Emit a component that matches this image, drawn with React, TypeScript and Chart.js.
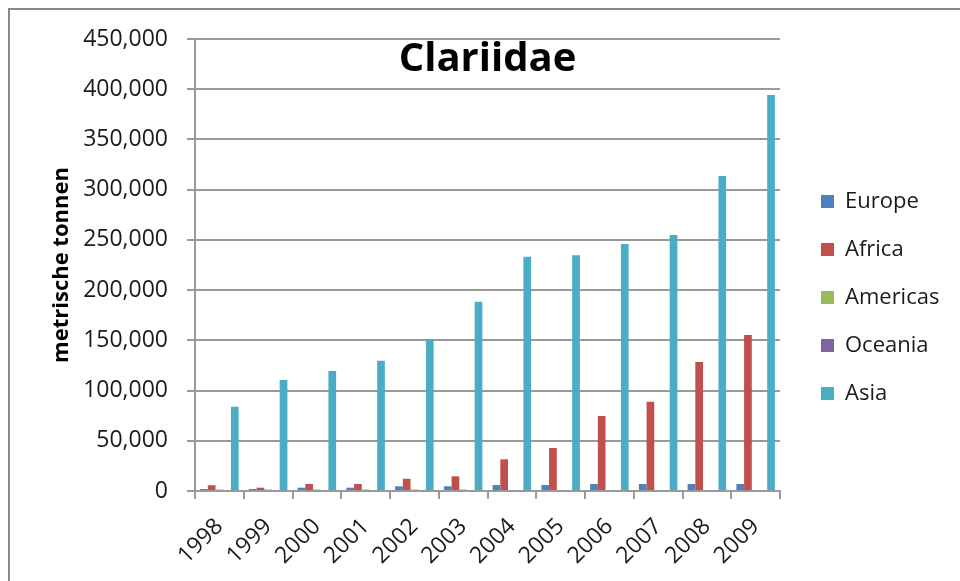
import React, { useEffect, useRef } from "react";
import { Chart, registerables } from "chart.js";

Chart.register(...registerables);

const years = ["1998", "1999", "2000", "2001", "2002", "2003", "2004", "2005", "2006", "2007", "2008", "2009"];
const europe = [2000, 2000, 3300, 3300, 4700, 4700, 6000, 6000, 7000, 7000, 7000, 7000];
const africa = [5700, 3300, 7000, 7000, 12200, 14600, 31500, 42800, 74700, 88900, 128400, 155300];
const americas = [1500, 1500, 1500, 1500, 1500, 1500, 1000, 1000, 1000, 1000, 0, 0];
const oceania = [0, 0, 0, 0, 0, 0, 0, 0, 1000, 1000, 0, 1000];
const asia = [83900, 110500, 119500, 129700, 151000, 188500, 233300, 234700, 245900, 254900, 313600, 394300];

const seriesNames = ["Europe", "Africa", "Americas", "Oceania", "Asia"];
const seriesColors = ["#4F81BD", "#C0504D", "#9BBB59", "#8064A2", "#4BACC6"];
const chartTitle = "Clariidae";
const yTitle = "metrische tonnen";

const GRID = "#9a9a9a";
const FONT = "'Open Sans', 'DejaVu Sans', sans-serif";

const legendPlace = {
  id: "legendPlace",
  afterInit(chart: any) {
    const l = chart.legend;
    if (!l) return;
    const orig = l.fit.bind(l);
    l.fit = function () {
      orig();
      l.width = 180;
    };
  },
  afterLayout(chart: any) {
    const l = chart.legend;
    if (!l) return;
    l.left += 15;
    l.top += 7;
    l.bottom += 7;
  },
};

export default function App() {
  const ref = useRef<HTMLCanvasElement | null>(null);

  useEffect(() => {
    if (!ref.current) return;
    const values = [europe, africa, americas, oceania, asia];
    const chart = new Chart(ref.current, {
      type: "bar",
      data: {
        labels: years,
        datasets: seriesNames.map((name, i) => ({
          label: name,
          data: values[i],
          backgroundColor: seriesColors[i],
          borderWidth: 0,
          categoryPercentage: 0.79,
          barPercentage: 1.0,
        })),
      },
      options: {
        animation: false,
        responsive: false,
        devicePixelRatio: 1,
        layout: { padding: { left: 0, right: 0, top: 0, bottom: 0 } },
        plugins: {
          tooltip: { enabled: false },
          title: {
            display: true,
            text: chartTitle,
            fullSize: false,
            color: "#000",
            font: { family: FONT, size: 40, weight: "bold", lineHeight: 1 },
            padding: { top: 40, bottom: -41 },
          },
          legend: {
            display: true,
            position: "right",
            labels: {
              boxWidth: 13,
              boxHeight: 13,
              padding: 26,
              color: "#1a1a1a",
              font: { family: FONT, size: 22 },
            },
          },
        },
        scales: {
          x: {
            offset: true,
            grid: {
              display: true,
              drawOnChartArea: false,
              drawTicks: true,
              tickLength: 8,
              color: GRID,
              tickColor: GRID,
              lineWidth: 2,
            },
            border: { display: true, color: GRID, width: 2 },
            ticks: {
              color: "#1a1a1a",
              font: { family: FONT, size: 23 },
              maxRotation: 45,
              minRotation: 45,
              padding: 14,
              autoSkip: false,
            },
            afterFit: (s: any) => {
              s.height = 90;
            },
          },
          y: {
            min: 0,
            max: 450000,
            grid: {
              color: GRID,
              tickColor: GRID,
              lineWidth: 2,
              tickLength: 8,
              drawTicks: true,
            },
            border: { display: true, color: GRID, width: 2 },
            ticks: {
              stepSize: 50000,
              color: "#1a1a1a",
              font: { family: FONT, size: 23 },
              padding: 19,
              callback: (v: any) => Number(v).toLocaleString("en-US"),
            },
            title: {
              display: true,
              text: yTitle,
              color: "#000",
              font: { family: FONT, size: 22, weight: "bold", lineHeight: 1.2 },
              padding: { top: 49, bottom: 0 },
            },
            afterFit: (s: any) => {
              s.width = 195;
            },
          },
        },
      },
      plugins: [legendPlace],
    } as any);
    return () => chart.destroy();
  }, []);

  return (
    <div style={{ position: "absolute", left: 0, top: 0, width: 960, height: 581, overflow: "hidden", background: "#fff" }}>
      <canvas ref={ref} width={960} height={581} style={{ display: "block", width: 960, height: 581 }} />
      <div
        style={{
          position: "absolute",
          left: 8,
          top: 8,
          width: 1000,
          height: 700,
          borderLeft: "2px solid #888",
          borderTop: "2px solid #888",
          pointerEvents: "none",
        }}
      />
    </div>
  );
}
